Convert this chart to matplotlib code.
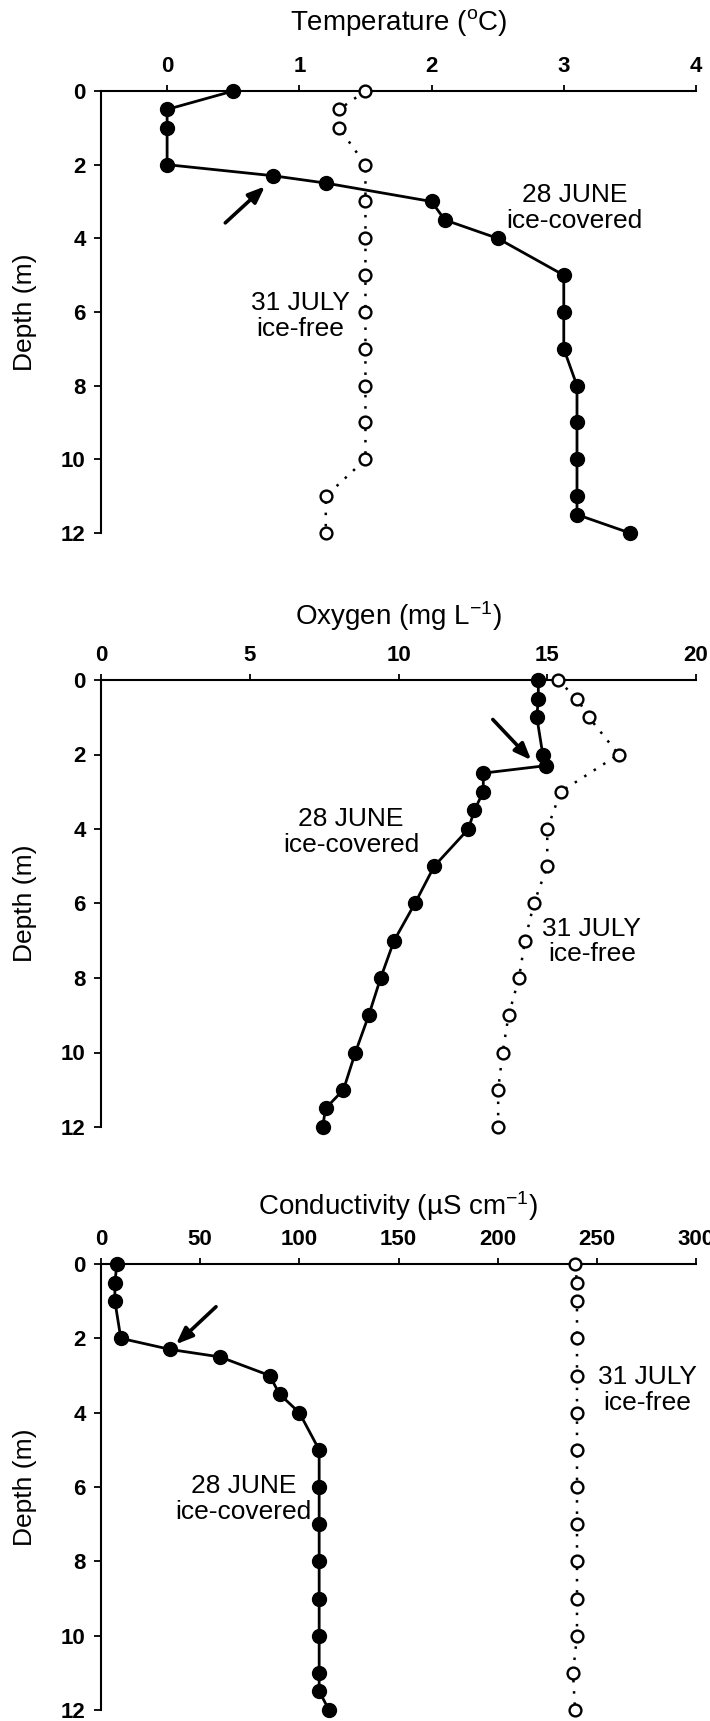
import matplotlib
matplotlib.use('Agg')
import matplotlib.pyplot as plt

FONT = ['Liberation Sans', 'DejaVu Sans']
plt.rcParams['font.family'] = FONT
plt.rcParams['mathtext.fontset'] = 'custom'
plt.rcParams['mathtext.rm'] = 'Liberation Sans'
plt.rcParams['mathtext.it'] = 'Liberation Sans:italic'
plt.rcParams['mathtext.bf'] = 'Liberation Sans:bold'

# ---------------- data ----------------
depth_june = [0, 0.5, 1, 2, 2.3, 2.5, 3, 3.5, 4, 5, 6, 7, 8, 9, 10, 11, 11.5, 12]
depth_july = [0, 0.5, 1, 2, 3, 4, 5, 6, 7, 8, 9, 10, 11, 12]

temp_june = [0.5, 0, 0, 0, 0.8, 1.2, 2.0, 2.1, 2.5, 3.0, 3.0, 3.0, 3.1, 3.1, 3.1, 3.1, 3.1, 3.5]
temp_july = [1.5, 1.3, 1.3, 1.5, 1.5, 1.5, 1.5, 1.5, 1.5, 1.5, 1.5, 1.5, 1.2, 1.2]

oxy_june = [14.7, 14.7, 14.65, 14.85, 14.95, 12.85, 12.85, 12.55, 12.35, 11.2, 10.55, 9.85,
            9.4, 9.0, 8.55, 8.15, 7.55, 7.45]
oxy_july = [15.35, 16.0, 16.4, 17.4, 15.45, 15.0, 15.0, 14.55, 14.25, 14.05, 13.7, 13.5, 13.35, 13.35]

cond_june = [8, 7, 7, 10, 35, 60, 85, 90, 100, 110, 110, 110, 110, 110, 110, 110, 110, 115]
cond_july = [239, 240, 240, 240, 240, 240, 240, 240, 240, 240, 240, 240, 238, 239]

depth_ticks = [0, 2, 4, 6, 8, 10, 12]
temp_ticks = [0, 1, 2, 3, 4]
oxy_ticks = [0, 5, 10, 15, 20]
cond_ticks = [0, 50, 100, 150, 200, 250, 300]

titles = ['Temperature ($^{\\mathrm{o}}$C)', 'Oxygen (mg L$^{\\mathrm{-1}}$)',
          'Conductivity (\u00b5S cm$^{\\mathrm{-1}}$)']
ylabel = 'Depth (m)'
lab_june = '28 JUNE\nice-covered'
lab_july = '31 JULY\nice-free'

# ---------------- figure ----------------
W, H = 710, 1721
fig = plt.figure(figsize=(W / 100, H / 100), dpi=100)
fig.patch.set_facecolor('white')

LEFT, RIGHT = 101, 696
boxes = [(91, 533), (680, 1127), (1264, 1710)]
title_off = [68, 64, 58]

panels = [
    dict(xj=temp_june, xl=temp_july, xlim=(-0.5, 4), ticks=temp_ticks,
         june_lab=(3.08, 3.18), july_lab=(1.01, 6.11),
         arrow_tail=(0.44, 3.58), arrow_tip=(0.74, 2.59)),
    dict(xj=oxy_june, xl=oxy_july, xlim=(0, 20), ticks=oxy_ticks,
         june_lab=(8.4, 4.08), july_lab=(16.5, 7.02),
         arrow_tail=(13.17, 1.06), arrow_tip=(14.46, 2.15)),
    dict(xj=cond_june, xl=cond_july, xlim=(0, 300), ticks=cond_ticks,
         june_lab=(71.8, 6.33), july_lab=(275.5, 3.4),
         arrow_tail=(58, 1.15), arrow_tip=(37.8, 2.16)),
]

for i, (p, (top, bot)) in enumerate(zip(panels, boxes)):
    ax = fig.add_axes([LEFT / W, 1 - bot / H, (RIGHT - LEFT) / W, (bot - top) / H])
    ax.set_facecolor('white')
    ax.set_xlim(*p['xlim'])
    ax.set_ylim(12, 0)
    ax.xaxis.tick_top()
    ax.spines['right'].set_visible(False)
    ax.spines['bottom'].set_visible(False)
    for s in ('top', 'left'):
        ax.spines[s].set_linewidth(1.5)
    ax.set_xticks(p['ticks'], labels=[str(t) for t in p['ticks']], fontweight='bold', fontsize=16)
    ax.set_yticks(depth_ticks, labels=[str(t) for t in depth_ticks], fontweight='bold', fontsize=16)
    ax.tick_params(axis='x', direction='out', length=4, width=1.3, pad=6)
    ax.tick_params(axis='y', direction='out', length=5, width=1.3, pad=6)

    ax.plot(p['xl'], depth_july, linestyle=(0, (1, 3.5)), color='k', lw=1.8,
            marker='o', ms=8.5, mfc='white', mec='k', mew=1.7, clip_on=False, zorder=3)
    ax.plot(p['xj'], depth_june, linestyle='-', color='k', lw=2.0,
            marker='o', ms=10, mfc='k', mec='k', clip_on=False, zorder=4)

    ax.text(*p['june_lab'], lab_june, ha='center', va='center', fontsize=19, linespacing=1.1)
    ax.text(*p['july_lab'], lab_july, ha='center', va='center', fontsize=19, linespacing=1.1)

    ax.annotate('', xy=p['arrow_tip'], xytext=p['arrow_tail'],
                arrowprops=dict(arrowstyle='-|>,head_length=1.0,head_width=0.4',
                                lw=2.6, color='k', shrinkA=0, shrinkB=0))

    ax.annotate(titles[i], xy=(0.5, 1), xycoords='axes fraction',
                xytext=(0, title_off[i] * 0.72), textcoords='offset points',
                ha='center', va='center', fontsize=20)
    ax.annotate(ylabel, xy=(0, 0.5), xycoords='axes fraction',
                xytext=(-(LEFT - 25) * 0.72, 0), textcoords='offset points',
                rotation=90, ha='center', va='center', fontsize=19)

fig.savefig('out.png', dpi=100, facecolor='white')
